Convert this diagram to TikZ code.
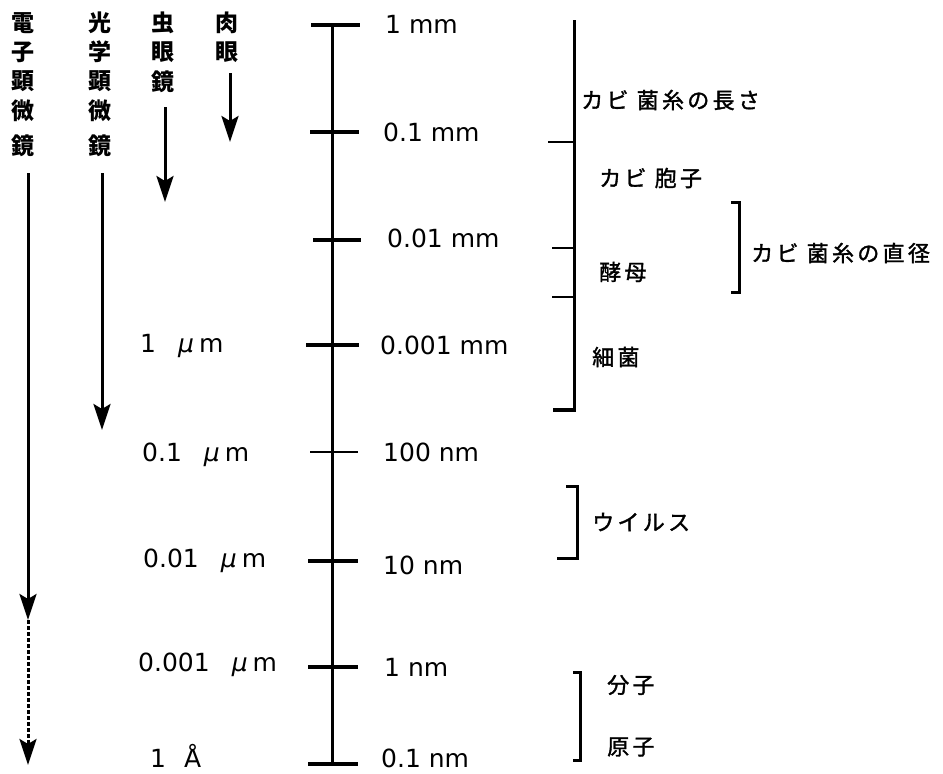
\documentclass[tikz,border=0pt]{standalone}
\usepackage{fontspec}
\setmainfont{DejaVu Sans}
\newfontfamily\jpfont[LetterSpace=15,FakeBold=1.5]{Noto Sans CJK JP}
\newfontfamily\jpvfont{Noto Sans CJK JP}
\usetikzlibrary{arrows.meta}
\newcommand\umlabel[1]{#1\hspace{22pt}{\itshape μ}\hspace{5pt}m}
\begin{document}
\begin{tikzpicture}[x=1pt,y=-1pt,
  scaleline/.style={line width=3pt},
  tickmark/.style={line width=3.5pt},
  thintick/.style={line width=2pt},
  sizelab/.style={font=\fontsize{25}{25}\selectfont, anchor=base west, inner sep=0pt},
  jlab/.style={font=\jpfont\fontsize{22}{22}\selectfont, anchor=west, inner sep=0pt},
  vchar/.style={font=\jpvfont\bfseries\fontsize{23}{23}\selectfont, inner sep=0pt},
  bracketline/.style={line width=3pt},
  reach/.style={line width=3pt, -{Stealth[length=26pt,width=17pt,inset=5pt]}},
]
\fill[white] (0,0) rectangle (943,774);
\useasboundingbox (0,0) rectangle (943,774);

% vertical instrument labels
\foreach \c/\yy [count=\i] in {電/23,子/52,顕/81,微/111,鏡/146}
  \node[vchar] (em\i) at (23,\yy) {\c};
\foreach \c/\yy [count=\i] in {光/23,学/52,顕/81,微/111,鏡/146}
  \node[vchar] (om\i) at (100,\yy) {\c};
\foreach \c/\yy [count=\i] in {虫/23,眼/52,鏡/82}
  \node[vchar] (mg\i) at (163,\yy) {\c};
\foreach \c/\yy [count=\i] in {肉/23,眼/52}
  \node[vchar] (ne\i) at (227,\yy) {\c};

% reach arrows
\coordinate (na) at (230,73);  \coordinate (nb) at (230,142);
\coordinate (ma) at (165,107); \coordinate (mb) at (165,202);
\coordinate (oa) at (102,173); \coordinate (ob) at (102,430);
\coordinate (ea) at (28,173);  \coordinate (eb) at (28,620);
\coordinate (ec) at (28,765);
\draw[reach] (na) -- (nb);
\draw[reach] (ma) -- (mb);
\draw[reach] (oa) -- (ob);
\draw[reach] (ea) -- (eb);
\draw[reach, dash pattern=on 3.5pt off 2.5pt] (eb) -- (ec);

% main scale
\coordinate (stop) at (332,25); \coordinate (sbot) at (332,765);
\draw[scaleline] (stop) -- (sbot);
\draw[tickmark] (311,25) -- (360,25);
\draw[tickmark] (310,132) -- (359,132);
\draw[tickmark] (313,240) -- (361,240);
\draw[tickmark] (306,345) -- (359,345);
\draw[thintick] (310,452) -- (358,452);
\draw[tickmark] (308,561) -- (358,561);
\draw[tickmark] (308,667) -- (358,667);
\draw[tickmark] (308,764) -- (358,764);

% right scale labels
\node[sizelab] (r1) at (385,33) {1 mm};
\node[sizelab] (r2) at (383,141) {0.1 mm};
\node[sizelab] (r3) at (387,247) {0.01 mm};
\node[sizelab] (r4) at (380,354) {0.001 mm};
\node[sizelab] (r5) at (383,461) {100 nm};
\node[sizelab] (r6) at (383,574) {10 nm};
\node[sizelab] (r7) at (384,676) {1 nm};
\node[sizelab] (r8) at (381,767) {0.1 nm};

% left scale labels
\node[sizelab] (l1) at (140,352) {\umlabel{1}};
\node[sizelab] (l2) at (142,461) {\umlabel{0.1}};
\node[sizelab] (l3) at (143,567) {\umlabel{0.01}};
\node[sizelab] (l4) at (138,671) {\umlabel{0.001}};
\node[sizelab] (l5) at (150,767) {1\hspace{18pt}Å};

% organism ranges
\draw[bracketline] (574,20) -- (574,410);
\draw[line width=4pt] (553,410) -- (575.5,410);
\draw[thintick] (548,142) -- (574,142);
\draw[thintick] (552,248) -- (574,248);
\draw[thintick] (552,297) -- (574,297);
\node[jlab] (kl) at (581,100) {カビ 菌糸の長さ};
\node[jlab] (ks) at (599,178) {カビ 胞子};
\node[jlab] (ys) at (599,272) {酵母};
\node[jlab] (sk) at (592,357) {細菌};

\draw[bracketline] (731,202) -- (739,202) -- (739,292) -- (731,292);
\node[jlab] (kd) at (751,253) {カビ 菌糸の直径};

\draw[bracketline] (566,486) -- (577,486) -- (577,558) -- (557,558);
\node[jlab] (vi) at (592,522) {ウイルス};

\draw[bracketline] (573,672) -- (580,672) -- (580,760) -- (573,760);
\node[jlab] (bu) at (607,685) {分子};
\node[jlab] (ge) at (607,747) {原子};
\end{tikzpicture}
\end{document}
